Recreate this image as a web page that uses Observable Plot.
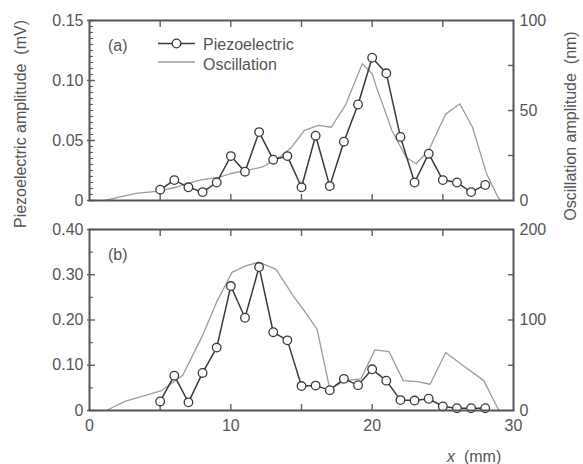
<!DOCTYPE html>
<html><head><meta charset="utf-8">
<script src="https://cdn.jsdelivr.net/npm/d3@7"></script>
<script src="https://cdn.jsdelivr.net/npm/@observablehq/plot@0.6"></script>
<style>
body{margin:0;background:#fff;font-family:"Liberation Sans",Arial,sans-serif;}
#wrap{position:relative;width:583px;height:464px;overflow:hidden;background:#fff;}
#wrap > svg{position:absolute;left:0;}
.lab{position:absolute;color:#555;font-size:16px;line-height:20px;white-space:nowrap;}
.rot{transform:translate(-50%,-50%) rotate(-90deg);}
</style></head><body>
<div id="wrap"></div>
<script>
// ---- data ----
const xPiezo = [5,6,7,8,9,10,11,12,13,14,15,16,17,18,19,20,21,22,23,24,25,26,27,28];
const piezoA = [0.009,0.017,0.011,0.007,0.015,0.037,0.024,0.057,0.034,0.037,0.011,0.054,0.012,0.049,0.080,0.119,0.106,0.053,0.015,0.039,0.017,0.015,0.007,0.013];
const oscXA = [1.1,2.1,3.3,4.9,6.2,6.8,7.9,9.2,10.0,11.1,12.2,13.0,13.6,14.3,15.2,16.2,17.1,18.1,19.3,20.0,20.3,21.4,22.4,23.1,24.0,25.2,26.2,27.1,28.1,28.9,29.1];
const oscA = [0,1.9,4,5.2,7.5,9.3,11.5,13,15,16.7,18.5,22,25,29.6,38.9,41.7,40.7,52.8,76,70.4,63,38.9,24,20.4,27.8,48,53.7,40.7,14.8,1.8,0];
const piezoB = [0.020,0.077,0.018,0.083,0.139,0.275,0.205,0.317,0.173,0.155,0.054,0.055,0.045,0.070,0.056,0.091,0.066,0.023,0.022,0.026,0.009,0.005,0.005,0.005];
const oscXB = [1.2,2.5,5.1,6.6,8.0,9.0,10.1,11.1,12.0,13.2,14.4,15.2,16.1,17.0,18.1,19.2,20.2,21.2,22.2,23.2,24.1,25.2,26.4,27.9,28.9,29.0];
const oscB = [0,10,22,39,83,120,153,160,164,156,127,110,90,24,33,35,67,65,33,32,29,64,50,33,2,0];

const xTickLabels = [0,10,20,30];
const xTickMarks = [5,10,15,20,25];
const leftTicksA = [0,0.05,0.10,0.15];
const rightTicksA = [0,50,100];
const rightMarksA = [25,50,75];
const leftTicksB = [0,0.10,0.20,0.30,0.40];
const rightTicksB = [0,100,200];
const rightMarksB = [50,100,150];

// ---- styles ----
const W = 583;
const ML = 89, MR = 70;
const FONT = '"Liberation Sans", Arial, sans-serif';
const INK = "#555";
const TICK = "#606060";
const PIEZO = "#3a3a3a";
const OSC = "#9c9c9c";
const wrap = document.getElementById("wrap");

function rows(xs, ys){ return xs.map((x,i)=>({x, y: ys[i]})); }
const fmtL = d => d === 0 ? "0" : d.toFixed(2);

function panel(o){
  const base = {
    width: W, height: o.height,
    marginLeft: ML, marginRight: MR, marginTop: o.mt, marginBottom: o.mb,
    style: {background: "transparent", fontFamily: FONT, fontSize: "16px", color: INK, overflow: "visible"},
  };
  // oscillation layer (right scale)
  const p2 = Plot.plot({
    ...base,
    x: {domain: [0,30], axis: null},
    y: {domain: o.domR},
    marks: [
      Plot.line(rows(o.oscX, o.osc), {x: "x", y: "y", stroke: OSC, strokeWidth: 1.3}),
      Plot.axisY(o.rightTicks, {anchor: "right", tickSize: 0, tickPadding: 6, label: null, tickFormat: d => String(d)}),
      Plot.axisY(o.rightMarks, {anchor: "right", tickSize: 6, dx: -6, text: null, label: null, stroke: TICK, strokeWidth: 1.4})
    ]
  });
  // piezo layer (left scale)
  const marks = [
    Plot.axisY(o.leftMinor, {anchor: "left", tickSize: 4, dx: 4, text: null, label: null, stroke: TICK, strokeWidth: 1.1}),
    Plot.axisY(o.leftTicks, {anchor: "left", tickSize: 8, dx: 6, text: null, label: null, stroke: TICK, strokeWidth: 1.4}),
    Plot.axisX(xTickMarks, {anchor: "bottom", tickSize: 6, dy: -6, text: null, label: null, stroke: TICK, strokeWidth: 1.4}),
    Plot.axisX(xTickMarks, {anchor: "top", tickSize: 6, dy: 6, text: null, label: null, stroke: TICK, strokeWidth: 1.4}),
    Plot.line(rows(xPiezo, o.piezo), {x: "x", y: "y", stroke: PIEZO, strokeWidth: 1.5}),
    Plot.dot(rows(xPiezo, o.piezo), {x: "x", y: "y", r: 4.3, fill: "white", stroke: PIEZO, strokeWidth: 1.3}),
    Plot.axisY(o.leftTicks, {anchor: "left", tickSize: 0, tickPadding: 6, label: null, tickFormat: fmtL}),
    Plot.frame({stroke: INK, strokeWidth: 2})
  ];
  if (o.showX) marks.push(Plot.axisX(xTickLabels, {anchor: "bottom", tickSize: 0, tickPadding: 9, label: null, tickFormat: d => String(d)}));
  const p1 = Plot.plot({
    ...base,
    x: {domain: [0,30]},
    y: {domain: o.domL},
    marks
  });
  p2.style.top = o.top + "px";
  p1.style.top = o.top + "px";
  p2.style.position = "absolute"; p1.style.position = "absolute";
  wrap.appendChild(p2);
  wrap.appendChild(p1);
}

panel({top: 0, height: 215, mt: 20, mb: 15, domL: [0,0.15], domR: [0,100],
  piezo: piezoA, oscX: oscXA, osc: oscA,
  leftTicks: leftTicksA, leftMinor: d3.range(0, 0.1501, 0.005),
  rightTicks: rightTicksA, rightMarks: rightMarksA, showX: false});

panel({top: 215, height: 249, mt: 14, mb: 54, domL: [0,0.40], domR: [0,200],
  piezo: piezoB, oscX: oscXB, osc: oscB,
  leftTicks: leftTicksB, leftMinor: [0.05,0.15,0.25,0.35],
  rightTicks: rightTicksB, rightMarks: rightMarksB, showX: true});

// ---- labels & legend ----
function lab(html, css, cls){
  const d = document.createElement("div");
  d.className = "lab" + (cls ? " " + cls : "");
  d.innerHTML = html;
  Object.assign(d.style, css);
  wrap.appendChild(d);
}
lab("Piezoelectric amplitude&nbsp;&nbsp;(mV)", {left: "21px", top: "124px"}, "rot");
lab("Oscillation amplitude&nbsp;&nbsp;(nm)", {left: "571px", top: "126px"}, "rot");
lab("<i>x</i>&nbsp;&nbsp;(mm)", {left: "447px", top: "447px"});
lab("(a)", {left: "108px", top: "36px"});
lab("(b)", {left: "108px", top: "245px"});

const NS = "http://www.w3.org/2000/svg";
const leg = document.createElementNS(NS, "svg");
leg.setAttribute("width", 583); leg.setAttribute("height", 100);
leg.style.top = "0px"; leg.style.position = "absolute";
leg.innerHTML = `
  <line x1="158" y1="43.5" x2="195" y2="43.5" stroke="${PIEZO}" stroke-width="1.5"/>
  <circle cx="176.5" cy="43.5" r="4.3" fill="white" stroke="${PIEZO}" stroke-width="1.3"/>
  <text x="203" y="49.5" font-family='${FONT}' font-size="16" fill="${INK}">Piezoelectric</text>
  <line x1="158" y1="62" x2="195" y2="62" stroke="${OSC}" stroke-width="1.3"/>
  <text x="203" y="70" font-family='${FONT}' font-size="16" fill="${INK}">Oscillation</text>`;
wrap.appendChild(leg);
</script>
</body></html>
